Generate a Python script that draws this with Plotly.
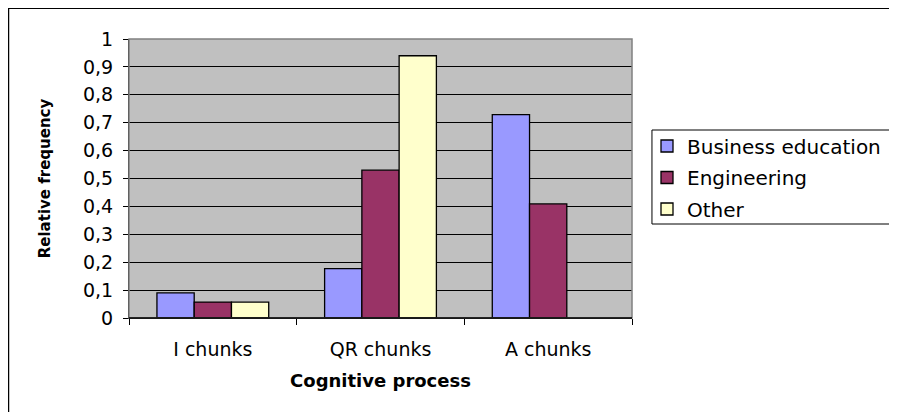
import plotly.graph_objects as go

categories = ["I chunks", "QR chunks", "A chunks"]
business = [0.09, 0.177, 0.729]
engineering = [0.057, 0.53, 0.409]
other = [0.057, 0.94, None]
ytickvals = [0, 0.1, 0.2, 0.3, 0.4, 0.5, 0.6, 0.7, 0.8, 0.9, 1]
yticktext = ["0", "0,1", "0,2", "0,3", "0,4", "0,5", "0,6", "0,7", "0,8", "0,9", "1"]

series = [
    ("Business education", business, "#9999FF"),
    ("Engineering", engineering, "#993366"),
    ("Other", other, "#FFFFCC"),
]

FONT = "DejaVu Sans, Verdana, Arial"

fig = go.Figure()
for i, (name, vals, col) in enumerate(series):
    fig.add_trace(go.Bar(
        x=categories, y=vals, name=name, legendgroup=f"g{i}",
        marker=dict(color=col, line=dict(color="black", width=1.3)),
    ))

OFF = 8  # page body margin
W, H = 897 - OFF, 412 - OFF
L, T = 129 - OFF, 39 - OFF
R = W - (633 - OFF)
B = H - (318 - OFF)
pw, ph = W - L - R, H - T - B

def px_x(x):
    return (x - OFF - L) / pw

def px_y(y):
    return (H - B - (y - OFF)) / ph

fig.update_layout(
    width=W, height=H,
    margin=dict(l=L, r=R, t=T, b=B, pad=0),
    paper_bgcolor="white",
    plot_bgcolor="#C0C0C0",
    barmode="group",
    bargap=1/3,
    bargroupgap=0,
    font=dict(family=FONT, size=19, color="black"),
    showlegend=True,
    legend=dict(
        x=px_x(647), y=px_y(126.5), xanchor="left", yanchor="top",
        borderwidth=0, bgcolor="rgba(0,0,0,0)",
        font=dict(family=FONT, size=20), traceorder="grouped", tracegroupgap=2.5,
        itemclick=False,
    ),
    xaxis=dict(
        type="category", range=[-0.5, 2.5],
        showline=True, linecolor="black", linewidth=1,
        ticks="outside", tickson="boundaries", ticklen=6, tickcolor="black",
        showgrid=False, tickfont=dict(family=FONT, size=19),
        ticklabelstandoff=14,
        title=dict(text="<b>Cognitive process</b>", font=dict(family=FONT, size=18), standoff=15),
    ),
    yaxis=dict(
        range=[0, 1], tickvals=ytickvals, ticktext=yticktext,
        showline=True, linecolor="black", linewidth=1,
        ticks="outside", ticklen=5, tickcolor="black",
        showgrid=True, gridcolor="black", gridwidth=1,
        zeroline=False, tickfont=dict(family=FONT, size=19),
        ticklabelstandoff=6,
        title=dict(text="<b>Relative frequency</b>", font=dict(family=FONT, size=15), standoff=28),
    ),
    shapes=[
        dict(type="rect", xref="paper", yref="paper", x0=0, x1=1, y0=0, y1=1,
             line=dict(color="#808080", width=1.5), layer="above"),
        dict(type="line", xref="paper", yref="paper", x0=0, x1=1, y0=0, y1=0,
             line=dict(color="black", width=1.5), layer="above"),
        dict(type="rect", xref="paper", yref="paper",
             x0=px_x(8), x1=px_x(905), y0=px_y(420), y1=px_y(8),
             line=dict(color="black", width=2)),
        dict(type="rect", xref="paper", yref="paper",
             x0=px_x(653), x1=px_x(905), y0=px_y(224), y1=px_y(130),
             line=dict(color="black", width=1), fillcolor="white", layer="above"),
    ],
)

fig.write_html("out.html")
